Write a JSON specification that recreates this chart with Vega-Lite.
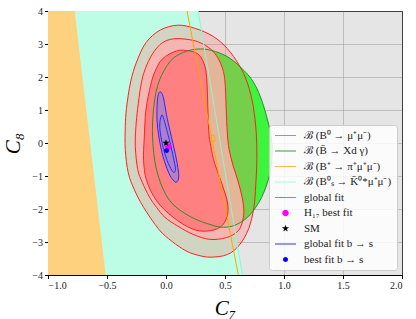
{
  "$schema": "https://vega.github.io/schema/vega-lite/v6.json",
  "width": 354,
  "height": 264,
  "autosize": "none",
  "padding": {"left": 48, "top": 11, "right": 14, "bottom": 44},
  "background": "white",
  "config": {
    "view": {"fill": "#e5e5e5", "stroke": "black", "strokeWidth": 1},
    "axis": {
      "zindex": 1,
      "grid": true,
      "gridColor": "#8c8c8c",
      "gridOpacity": 0.45,
      "gridWidth": 1,
      "domainColor": "black",
      "tickColor": "black",
      "tickSize": 3.5,
      "labelFont": "Liberation Serif",
      "labelFontSize": 10,
      "labelColor": "#222",
      "labelPadding": 2,
      "titleFont": "Liberation Serif",
      "titleFontStyle": "italic",
      "titleFontWeight": "normal",
      "titleFontSize": 21,
      "titleColor": "black"
    }
  },
  "datasets": {
    "cyan": [{"x":-1,"y":4,"i":0},{"x":0.272,"y":4,"i":1},{"x":0.648,"y":-4,"i":2},{"x":-1,"y":-4,"i":3}],
    "orng": [{"x":-1,"y":4,"i":0},{"x":-0.774,"y":4,"i":1},{"x":-0.511,"y":-4,"i":2},{"x":-1,"y":-4,"i":3}],
    "cyanEdge": [{"x":0.272,"y":4,"i":0},{"x":0.648,"y":-4,"i":1}],
    "orngLine": [{"x":0.178,"y":4,"i":0},{"x":0.613,"y":-4,"i":1}],
    "loop": [{"x":0.398,"y":0.24,"i":0},{"x":0.41,"y":0.21,"i":1},{"x":0.415,"y":0.13,"i":2},{"x":0.41,"y":0.05,"i":3},{"x":0.398,"y":0.02,"i":4},{"x":0.386,"y":0.05,"i":5},{"x":0.381,"y":0.13,"i":6},{"x":0.386,"y":0.21,"i":7}],
    "outer": [{"x":0.10,"y":3.57,"i":0},{"x":0.25,"y":3.47,"i":1},{"x":0.40,"y":3.23,"i":2},{"x":0.52,"y":2.86,"i":3},{"x":0.62,"y":2.36,"i":4},{"x":0.69,"y":1.82,"i":5},{"x":0.74,"y":1.10,"i":6},{"x":0.765,"y":0.30,"i":7},{"x":0.77,"y":-0.50,"i":8},{"x":0.76,"y":-1.30,"i":9},{"x":0.745,"y":-1.95,"i":10},{"x":0.70,"y":-2.60,"i":11},{"x":0.62,"y":-3.10,"i":12},{"x":0.52,"y":-3.38,"i":13},{"x":0.38,"y":-3.46,"i":14},{"x":0.27,"y":-3.40,"i":15},{"x":0.17,"y":-3.27,"i":16},{"x":0.05,"y":-2.98,"i":17},{"x":-0.06,"y":-2.62,"i":18},{"x":-0.19,"y":-1.95,"i":19},{"x":-0.27,"y":-1.40,"i":20},{"x":-0.32,"y":-0.90,"i":21},{"x":-0.345,"y":-0.20,"i":22},{"x":-0.345,"y":0.50,"i":23},{"x":-0.335,"y":1.05,"i":24},{"x":-0.30,"y":1.85,"i":25},{"x":-0.25,"y":2.45,"i":26},{"x":-0.17,"y":3.04,"i":27},{"x":-0.05,"y":3.42,"i":28}],
    "middle": [{"x":0.07,"y":3.16,"i":0},{"x":0.20,"y":3.13,"i":1},{"x":0.29,"y":3.04,"i":2},{"x":0.38,"y":2.84,"i":3},{"x":0.44,"y":2.58,"i":4},{"x":0.48,"y":2.25,"i":5},{"x":0.50,"y":1.85,"i":6},{"x":0.51,"y":1.04,"i":7},{"x":0.52,"y":0.30,"i":8},{"x":0.535,"y":-0.20,"i":9},{"x":0.57,"y":-0.70,"i":10},{"x":0.61,"y":-1.15,"i":11},{"x":0.645,"y":-1.64,"i":12},{"x":0.66,"y":-2.10,"i":13},{"x":0.64,"y":-2.48,"i":14},{"x":0.60,"y":-2.70,"i":15},{"x":0.51,"y":-2.87,"i":16},{"x":0.37,"y":-2.92,"i":17},{"x":0.23,"y":-2.77,"i":18},{"x":0.10,"y":-2.52,"i":19},{"x":-0.01,"y":-2.25,"i":20},{"x":-0.08,"y":-1.95,"i":21},{"x":-0.14,"y":-1.64,"i":22},{"x":-0.20,"y":-1.20,"i":23},{"x":-0.24,"y":-0.80,"i":24},{"x":-0.26,"y":-0.10,"i":25},{"x":-0.255,"y":0.50,"i":26},{"x":-0.24,"y":1.04,"i":27},{"x":-0.215,"y":1.70,"i":28},{"x":-0.19,"y":2.10,"i":29},{"x":-0.15,"y":2.47,"i":30},{"x":-0.10,"y":2.78,"i":31},{"x":-0.03,"y":3.04,"i":32}],
    "inner": [{"x":0.09,"y":2.79,"i":0},{"x":0.20,"y":2.79,"i":1},{"x":0.28,"y":2.67,"i":2},{"x":0.33,"y":2.32,"i":3},{"x":0.347,"y":1.85,"i":4},{"x":0.355,"y":1.04,"i":5},{"x":0.363,"y":0.33,"i":6},{"x":0.38,"y":-0.10,"i":7},{"x":0.413,"y":-0.62,"i":8},{"x":0.48,"y":-1.30,"i":9},{"x":0.522,"y":-1.82,"i":10},{"x":0.517,"y":-2.24,"i":11},{"x":0.46,"y":-2.55,"i":12},{"x":0.345,"y":-2.67,"i":13},{"x":0.22,"y":-2.60,"i":14},{"x":0.06,"y":-2.25,"i":15},{"x":-0.08,"y":-1.75,"i":16},{"x":-0.165,"y":-1.13,"i":17},{"x":-0.19,"y":-0.52,"i":18},{"x":-0.185,"y":0.10,"i":19},{"x":-0.17,"y":1.00,"i":20},{"x":-0.13,"y":1.75,"i":21},{"x":-0.095,"y":2.15,"i":22},{"x":-0.03,"y":2.55,"i":23}],
    "green": [{"x":0.29,"y":2.85,"i":0},{"x":0.42,"y":2.77,"i":1},{"x":0.54,"y":2.57,"i":2},{"x":0.66,"y":2.20,"i":3},{"x":0.74,"y":1.85,"i":4},{"x":0.80,"y":1.40,"i":5},{"x":0.85,"y":0.84,"i":6},{"x":0.885,"y":0.30,"i":7},{"x":0.90,"y":-0.22,"i":8},{"x":0.88,"y":-0.93,"i":9},{"x":0.81,"y":-1.65,"i":10},{"x":0.71,"y":-2.18,"i":11},{"x":0.61,"y":-2.45,"i":12},{"x":0.51,"y":-2.55,"i":13},{"x":0.40,"y":-2.50,"i":14},{"x":0.20,"y":-2.22,"i":15},{"x":0.03,"y":-1.74,"i":16},{"x":-0.07,"y":-0.95,"i":17},{"x":-0.11,"y":-0.07,"i":18},{"x":-0.11,"y":0.84,"i":19},{"x":-0.07,"y":1.75,"i":20},{"x":0.03,"y":2.45,"i":21},{"x":0.15,"y":2.75,"i":22}],
    "blueOuter": [{"x":-0.045,"y":1.55,"i":0},{"x":-0.025,"y":1.42,"i":1},{"x":-0.01,"y":1.15,"i":2},{"x":0.01,"y":0.75,"i":3},{"x":0.045,"y":0.20,"i":4},{"x":0.08,"y":-0.35,"i":5},{"x":0.105,"y":-0.85,"i":6},{"x":0.105,"y":-1.10,"i":7},{"x":0.085,"y":-1.19,"i":8},{"x":0.06,"y":-1.12,"i":9},{"x":0.025,"y":-0.92,"i":10},{"x":-0.025,"y":-0.42,"i":11},{"x":-0.06,"y":0.18,"i":12},{"x":-0.076,"y":0.70,"i":13},{"x":-0.074,"y":1.25,"i":14},{"x":-0.062,"y":1.50,"i":15}],
    "blueInner": [{"x":-0.035,"y":0.85,"i":0},{"x":-0.018,"y":0.72,"i":1},{"x":0.005,"y":0.42,"i":2},{"x":0.035,"y":0.0,"i":3},{"x":0.063,"y":-0.45,"i":4},{"x":0.08,"y":-0.76,"i":5},{"x":0.074,"y":-0.88,"i":6},{"x":0.058,"y":-0.87,"i":7},{"x":0.02,"y":-0.62,"i":8},{"x":-0.02,"y":-0.20,"i":9},{"x":-0.048,"y":0.30,"i":10},{"x":-0.052,"y":0.62,"i":11}],
    "pts": [{"x":0.02,"y":-0.11,"s":"H₁₇ best fit"},{"x":0.0,"y":0.0,"s":"SM"},{"x":0.005,"y":-0.23,"s":"best fit b → s"}]
  },
  "encoding": {
    "x": {"field": "x", "type": "quantitative", "scale": {"domain": [-1, 2], "nice": false, "zero": false},
          "axis": {"values": [-1, -0.5, 0, 0.5, 1, 1.5, 2], "format": ".1f", "title": "C₇", "titlePadding": 7}},
    "y": {"field": "y", "type": "quantitative", "scale": {"domain": [-4, 4], "nice": false, "zero": false},
          "axis": {"values": [-4, -3, -2, -1, 0, 1, 2, 3, 4], "format": "d", "title": "C₈", "titlePadding": 8}}
  },
  "layer": [
    {"data": {"name": "cyan"}, "mark": {"type": "line", "fill": "#bdfde6", "stroke": "#bdfde6", "strokeWidth": 0, "clip": true}, "encoding": {"order": {"field": "i", "type": "quantitative"}}},
    {"data": {"name": "orng"}, "mark": {"type": "line", "fill": "#fed17f", "stroke": "#fed17f", "strokeWidth": 0, "clip": true}, "encoding": {"order": {"field": "i", "type": "quantitative"}}},
    {"data": {"name": "green"}, "mark": {"type": "line", "interpolate": "cardinal-closed", "fill": "#3cf53c", "strokeWidth": 0, "stroke": "#3cf53c"}, "encoding": {"order": {"field": "i", "type": "quantitative"}}},
    {"data": {"name": "outer"}, "mark": {"type": "line", "interpolate": "cardinal-closed", "fill": "#ff786e", "fillOpacity": 0.3, "stroke": "#ff2020", "strokeWidth": 1}, "encoding": {"order": {"field": "i", "type": "quantitative"}}},
    {"data": {"name": "middle"}, "mark": {"type": "line", "interpolate": "cardinal-closed", "fill": "#fbb0ac", "fillOpacity": 0.82, "stroke": "#ff2020", "strokeWidth": 1}, "encoding": {"order": {"field": "i", "type": "quantitative"}}},
    {"data": {"name": "inner"}, "mark": {"type": "line", "interpolate": "cardinal-closed", "fill": "#ff8080", "fillOpacity": 1, "stroke": "#ff2020", "strokeWidth": 1}, "encoding": {"order": {"field": "i", "type": "quantitative"}}},
    {"data": {"name": "green"}, "mark": {"type": "line", "interpolate": "cardinal-closed", "stroke": "#2e8b2e", "strokeWidth": 1}, "encoding": {"order": {"field": "i", "type": "quantitative"}}},
    {"data": {"name": "cyanEdge"}, "mark": {"type": "line", "stroke": "#8ff5d0", "strokeWidth": 1, "clip": true}, "encoding": {"order": {"field": "i", "type": "quantitative"}}},
    {"data": {"name": "orngLine"}, "mark": {"type": "line", "stroke": "#ffa500", "strokeWidth": 1, "clip": true}, "encoding": {"order": {"field": "i", "type": "quantitative"}}},
    {"data": {"name": "loop"}, "mark": {"type": "line", "interpolate": "cardinal-closed", "stroke": "#ffa500", "strokeWidth": 1}, "encoding": {"order": {"field": "i", "type": "quantitative"}}},
    {"data": {"name": "blueOuter"}, "mark": {"type": "line", "interpolate": "cardinal-closed", "fill": "#7080ff", "fillOpacity": 0.5, "stroke": "#2828ff", "strokeWidth": 1}, "encoding": {"order": {"field": "i", "type": "quantitative"}}},
    {"data": {"name": "blueInner"}, "mark": {"type": "line", "interpolate": "cardinal-closed", "fill": "#7080ff", "fillOpacity": 0.2, "stroke": "#2828ff", "strokeWidth": 1}, "encoding": {"order": {"field": "i", "type": "quantitative"}}},
    {"data": {"name": "pts"},
     "mark": {"type": "point", "filled": true, "size": 100, "opacity": 1, "strokeWidth": 0},
     "encoding": {
       "color": {"field": "s", "type": "nominal",
         "scale": {"domain": ["ℬ (B⁰ → μ⁺μ⁻)", "ℬ (B̄ → Xd γ)", "ℬ (B⁺ → π⁺μ⁺μ⁻)", "ℬ (B⁰ₛ → K̄⁰*μ⁺μ⁻)", "global fit", "H₁₇ best fit", "SM", "global fit b → s", "best fit b → s"],
                   "range": ["#999999", "#3a9a3a", "#ffb84d", "#a8f8dc", "#ff6060", "#ff00ff", "#000000", "#3030ff", "#0000ff"]},
         "legend": {"title": null, "orient": "bottom-right", "offset": 5, "zindex": 2,
           "fillColor": "rgba(255,255,255,0.85)", "strokeColor": "#cccccc", "cornerRadius": 3, "padding": 5,
           "labelFont": "Liberation Serif", "labelFontSize": 11, "labelColor": "#222", "labelLimit": 200,
           "symbolOffset": 6, "labelOffset": 13, "rowPadding": 3.5, "symbolStrokeWidth": 0}},
       "shape": {"field": "s", "type": "nominal",
         "scale": {"domain": ["ℬ (B⁰ → μ⁺μ⁻)", "ℬ (B̄ → Xd γ)", "ℬ (B⁺ → π⁺μ⁺μ⁻)", "ℬ (B⁰ₛ → K̄⁰*μ⁺μ⁻)", "global fit", "H₁₇ best fit", "SM", "global fit b → s", "best fit b → s"],
                   "range": ["M-2.1,-0.1H2.1V0.1H-2.1Z", "M-2.1,-0.1H2.1V0.1H-2.1Z", "M-2.1,-0.1H2.1V0.1H-2.1Z", "M-2.1,-0.1H2.1V0.1H-2.1Z", "M-2.1,-0.1H2.1V0.1H-2.1Z",
                             "M0.65,0A0.65,0.65,0,1,1,-0.65,0A0.65,0.65,0,1,1,0.65,0Z",
                             "M0,-0.75L0.176,-0.243L0.713,-0.232L0.285,0.093L0.441,0.607L0,0.3L-0.441,0.607L-0.285,0.093L-0.713,-0.232L-0.176,-0.243Z",
                             "M-2.1,-0.1H2.1V0.1H-2.1Z",
                             "M0.5,0A0.5,0.5,0,1,1,-0.5,0A0.5,0.5,0,1,1,0.5,0Z"]}}
     }}
  ]
}
